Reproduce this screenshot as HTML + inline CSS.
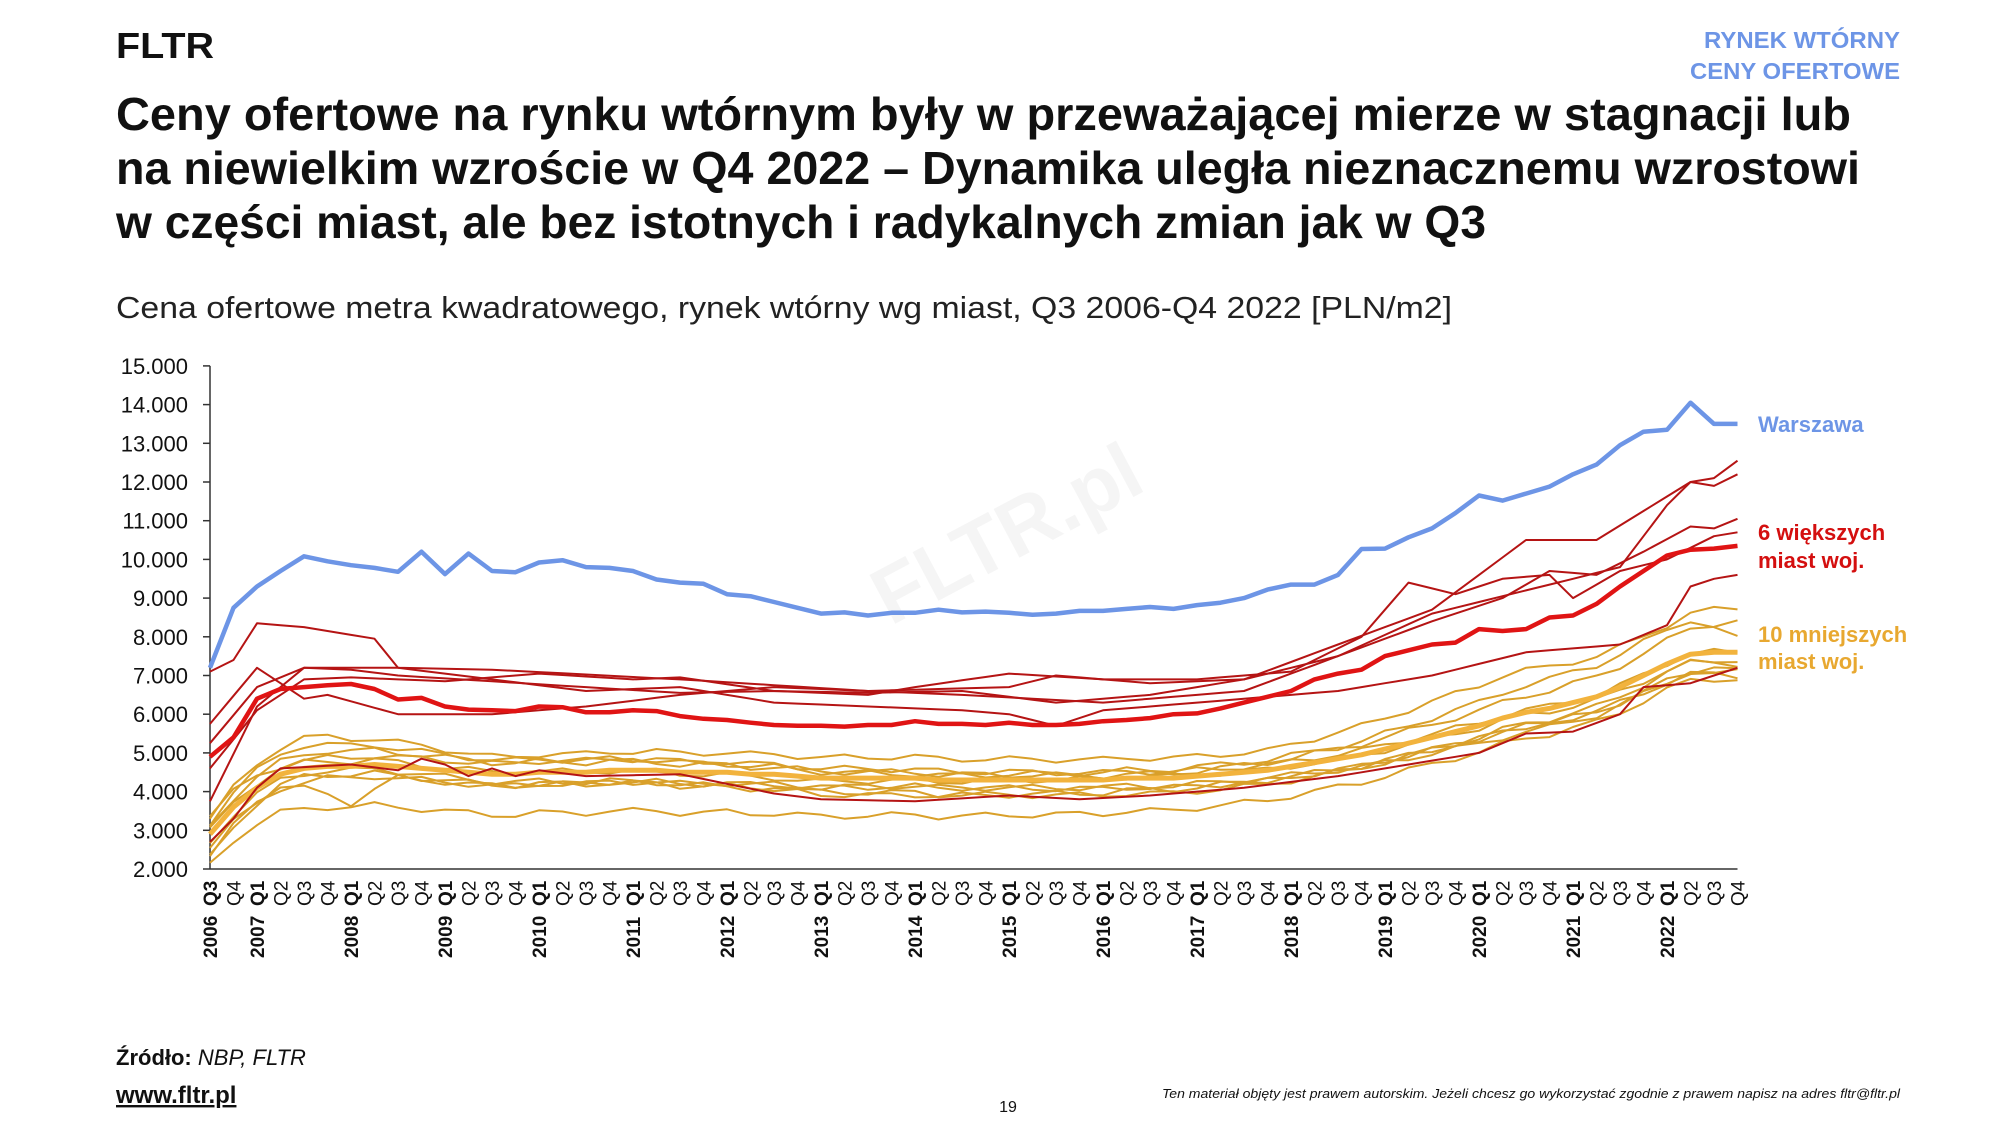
<!DOCTYPE html>
<html><head><meta charset="utf-8"><style>
html,body{margin:0;padding:0;background:#fff;}
svg{display:block;font-family:"Liberation Sans",sans-serif;}
</style></head><body>
<svg id="s" width="2000" height="1125" viewBox="0 0 2000 1125" xmlns="http://www.w3.org/2000/svg">
<text x="116" y="58" font-size="36" font-weight="bold" fill="#111" textLength="98" lengthAdjust="spacingAndGlyphs">FLTR</text>
<text x="1900" y="48" font-size="23" font-weight="bold" fill="#6d95e6" text-anchor="end" textLength="196" lengthAdjust="spacingAndGlyphs">RYNEK WTÓRNY</text>
<text x="1900" y="79" font-size="23" font-weight="bold" fill="#6d95e6" text-anchor="end" textLength="210" lengthAdjust="spacingAndGlyphs">CENY OFERTOWE</text>
<g font-size="46" font-weight="bold" fill="#111">
<text x="116" y="130" textLength="1735" lengthAdjust="spacingAndGlyphs">Ceny ofertowe na rynku wtórnym były w przeważającej mierze w stagnacji lub</text>
<text x="116" y="184" textLength="1744" lengthAdjust="spacingAndGlyphs">na niewielkim wzroście w Q4 2022 – Dynamika uległa nieznacznemu wzrostowi</text>
<text x="116" y="238" textLength="1370" lengthAdjust="spacingAndGlyphs">w części miast, ale bez istotnych i radykalnych zmian jak w Q3</text>
</g>
<text x="116" y="318" font-size="31" fill="#222" textLength="1336" lengthAdjust="spacingAndGlyphs">Cena ofertowe metra kwadratowego, rynek wtórny wg miast, Q3 2006-Q4 2022 [PLN/m2]</text>
<text x="1010" y="560" font-size="80" font-weight="bold" fill="#f5f5f5" transform="rotate(-28 1010 540)" text-anchor="middle">FLTR.pl</text>
<g id="axes"></g>
<g id="lines" fill="none" stroke-linejoin="round"></g>
<g font-size="22" font-weight="bold">
<text x="1758" y="432" fill="#6d95e6">Warszawa</text>
<text x="1758" y="540" fill="#d40f0f">6 większych</text>
<text x="1758" y="568" fill="#d40f0f">miast woj.</text>
<text x="1758" y="642" fill="#e8a830">10 mniejszych</text>
<text x="1758" y="669" fill="#e8a830">miast woj.</text>
</g>
<text x="116" y="1065" font-size="22" fill="#111"><tspan font-weight="bold">Źródło:</tspan><tspan font-style="italic"> NBP, FLTR</tspan></text>
<text x="116" y="1103" font-size="24" font-weight="bold" fill="#111" text-decoration="underline">www.fltr.pl</text>
<text x="1008" y="1112" font-size="16" fill="#111" text-anchor="middle">19</text>
<text x="1900" y="1098" font-size="13" font-style="italic" fill="#111" text-anchor="end" textLength="738" lengthAdjust="spacingAndGlyphs">Ten materiał objęty jest prawem autorskim. Jeżeli chcesz go wykorzystać zgodnie z prawem napisz na adres fltr@fltr.pl</text>
</svg>
<script>
var NS="http://www.w3.org/2000/svg";
var X0=210,DX=23.5,Y2=869,PY=38.7;
function X(i){return X0+i*DX;}function Y(v){return Y2-(v-2)*PY;}
function el(p,t,a,txt){var e=document.createElementNS(NS,t);for(var k in a)e.setAttribute(k,a[k]);if(txt!=null)e.textContent=txt;p.appendChild(e);return e;}
var ax=document.getElementById('axes');
el(ax,'line',{x1:X0,y1:Y(15),x2:X0,y2:Y2,stroke:'#333','stroke-width':1.5});
el(ax,'line',{x1:X0,y1:Y2,x2:X(65),y2:Y2,stroke:'#333','stroke-width':1.5});
for(var v=2;v<=15;v++){var y=Y(v);el(ax,'line',{x1:203,y1:y,x2:X0,y2:y,stroke:'#333','stroke-width':1.5});
el(ax,'text',{x:188,y:y+8,'font-size':22,'text-anchor':'end',fill:'#111'},v+'.000');}
for(var i=0;i<66;i++){var q=(i+2)%4+1;var x=X(i)+7;
el(ax,'text',{x:0,y:0,'font-size':19,'font-weight':q==1||i==0?'bold':'normal',fill:'#111',transform:'translate('+x+',906) rotate(-90)'},'Q'+q);
if(q==1||i==0){var yr=2006+Math.floor((i+2)/4);el(ax,'text',{x:0,y:0,'font-size':19,'font-weight':'bold',fill:'#111',transform:'translate('+x+',958) rotate(-90)'},''+yr);}}
function interp(k){var a=[];for(var i=0;i<66;i++){for(var j=0;j<k.length-1;j++){if(i>=k[j][0]&&i<=k[j+1][0]){var t=(i-k[j][0])/(k[j+1][0]-k[j][0]);a.push(k[j][1]+t*(k[j+1][1]-k[j][1]));break;}}}return a;}
var W=[7.2,8.75,9.3,9.7,10.08,9.95,9.85,9.78,9.68,10.2,9.62,10.15,9.7,9.67,9.92,9.98,9.8,9.78,9.7,9.48,9.4,9.37,9.1,9.05,8.9,8.75,8.6,8.63,8.55,8.62,8.62,8.7,8.63,8.65,8.62,8.57,8.6,8.67,8.67,8.72,8.77,8.72,8.82,8.88,9.0,9.22,9.35,9.35,9.6,10.27,10.28,10.57,10.8,11.2,11.65,11.52,11.7,11.88,12.2,12.45,12.95,13.3,13.35,14.05,13.5,13.5];
var RA=[4.9,5.4,6.4,6.65,6.7,6.75,6.78,6.65,6.38,6.42,6.2,6.12,6.1,6.08,6.2,6.18,6.05,6.05,6.1,6.08,5.95,5.88,5.85,5.78,5.72,5.7,5.7,5.68,5.72,5.72,5.82,5.75,5.75,5.72,5.78,5.72,5.72,5.75,5.82,5.85,5.9,6.0,6.02,6.15,6.3,6.45,6.6,6.9,7.05,7.15,7.5,7.65,7.8,7.85,8.2,8.15,8.2,8.5,8.55,8.85,9.3,9.7,10.1,10.25,10.28,10.35];
var OA=[2.9,3.6,4.1,4.45,4.6,4.65,4.65,4.7,4.65,4.6,4.55,4.5,4.45,4.45,4.5,4.5,4.5,4.55,4.55,4.55,4.5,4.5,4.5,4.45,4.45,4.4,4.35,4.35,4.35,4.35,4.35,4.3,4.3,4.3,4.3,4.3,4.3,4.3,4.3,4.35,4.35,4.35,4.4,4.45,4.5,4.55,4.65,4.75,4.85,4.95,5.1,5.25,5.4,5.55,5.7,5.9,6.05,6.15,6.3,6.45,6.7,7.0,7.3,7.55,7.6,7.6];
var R=[
[[0,7.1],[1,7.4],[2,8.35],[4,8.25],[7,7.95],[8,7.2],[12,7.15],[20,6.9],[28,6.6],[34,6.7],[36,7.0],[40,6.8],[44,6.9],[48,7.8],[52,8.7],[56,10.5],[59,10.5],[63,12.0],[64,12.1],[65,12.55]],
[[0,5.75],[2,7.2],[4,6.4],[5,6.5],[8,6.0],[12,6.0],[16,6.2],[20,6.5],[24,6.7],[32,6.5],[38,6.3],[44,6.6],[48,7.5],[52,8.6],[56,9.2],[60,9.8],[62,11.4],[63,12.0],[64,11.9],[65,12.2]],
[[0,5.25],[2,6.7],[4,7.2],[6,7.15],[8,7.0],[12,6.85],[16,6.7],[20,6.55],[24,6.6],[28,6.55],[32,6.6],[36,6.3],[40,6.5],[44,6.9],[48,7.5],[52,8.4],[55,9.0],[57,9.7],[59,9.6],[61,10.2],[63,10.85],[64,10.8],[65,11.05]],
[[0,4.6],[2,6.1],[4,6.9],[6,6.95],[10,6.85],[14,7.05],[18,6.9],[20,6.95],[24,6.6],[28,6.5],[30,6.7],[34,7.05],[38,6.9],[42,6.9],[46,7.1],[49,8.0],[51,9.4],[53,9.1],[55,9.5],[57,9.6],[58,9.0],[60,9.7],[62,10.0],[64,10.6],[65,10.7]],
[[0,3.75],[2,6.2],[4,7.2],[8,7.2],[12,6.9],[16,6.6],[20,6.7],[24,6.3],[28,6.2],[32,6.1],[34,6.0],[36,5.7],[38,6.1],[44,6.4],[48,6.6],[52,7.0],[56,7.6],[60,7.8],[62,8.3],[63,9.3],[64,9.5],[65,9.6]],
[[0,2.7],[1,3.3],[2,4.1],[3,4.6],[6,4.7],[8,4.55],[9,4.85],[10,4.7],[11,4.4],[12,4.6],[13,4.4],[14,4.55],[16,4.4],[20,4.45],[22,4.2],[24,3.95],[26,3.8],[30,3.75],[34,3.9],[37,3.8],[40,3.9],[44,4.1],[48,4.4],[51,4.7],[54,5.0],[56,5.5],[58,5.55],[60,6.0],[61,6.7],[63,6.8],[65,7.2]]];
var O=[
[[0,0.4],[4,0.8],[12,0.45],[30,0.55],[45,0.5],[55,1.1],[62,1.0],[65,1.15]],
[[0,-0.8],[4,-1.05],[20,-1.05],[40,-0.85],[50,-0.7],[60,-0.65],[65,-0.7]],
[[0,0.3],[4,0.6],[10,0.4],[30,0.1],[48,0.3],[58,0.8],[63,0.9],[65,0.35]],
[[0,-0.4],[3,-0.3],[6,-0.95],[8,-0.3],[20,-0.3],[32,-0.2],[50,-0.3],[60,-0.4],[65,-0.6]],
[[0,0.2],[5,0.4],[20,0.2],[40,0.1],[55,0.4],[62,0.6],[65,0.8]],
[[0,-0.5],[5,-0.3],[20,-0.3],[30,-0.2],[45,-0.2],[55,-0.5],[65,-0.45]],
[[0,0.1],[4,0.15],[25,-0.1],[40,0.05],[60,-0.1],[65,-0.3]],
[[0,-0.2],[6,-0.1],[28,-0.45],[45,-0.25],[60,-0.4],[65,-0.5]],
[[0,0.5],[3,0.2],[15,0.3],[35,0.2],[50,0.1],[65,0.0]],
[[0,-0.6],[4,-0.2],[20,-0.35],[40,-0.4],[55,-0.3],[65,-0.2]]];
var g=document.getElementById('lines');
function path(a,c,w){var d='';for(var i=0;i<a.length;i++)d+=(i?'L':'M')+X(i).toFixed(1)+' '+Y(a[i]).toFixed(1);el(g,'path',{d:d,stroke:c,'stroke-width':w});}
O.forEach(function(k,n){var off=interp(k);path(OA.map(function(v,i){return v+off[i]+0.08*Math.sin(i*1.7+n*2.3);}),'#d9a02a',2);});
path(OA,'#f2b33d',5);
R.forEach(function(k){path(interp(k),'#b51414',2);});
path(RA,'#e01414',4.5);
path(W,'#6d95e6',4.5);
</script>
</body></html>
